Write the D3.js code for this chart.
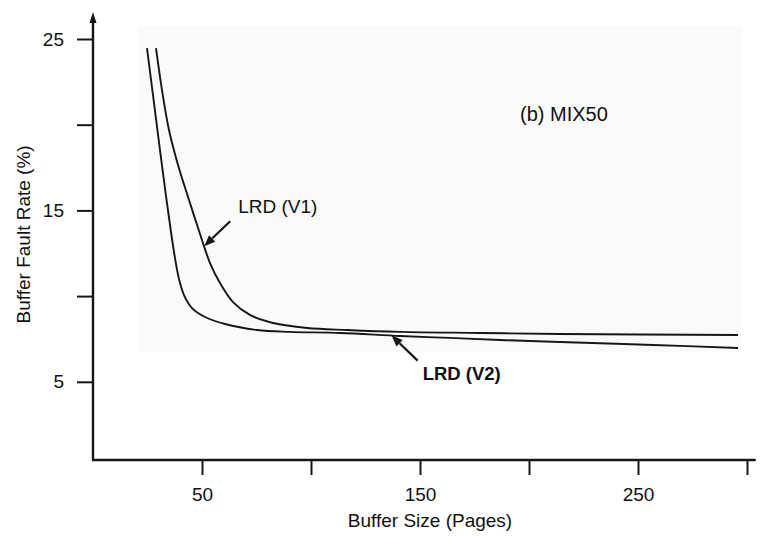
<!DOCTYPE html>
<html>
<head>
<meta charset="utf-8">
<script src="https://cdn.jsdelivr.net/npm/d3@7/dist/d3.min.js"></script>
<style>
  html, body { margin: 0; padding: 0; background: #ffffff; }
  svg { display: block; }
  text { font-family: "Liberation Sans", Arial, Helvetica, sans-serif; fill: #111; }
</style>
</head>
<body>
<div id="chart"></div>
<script>
// Buffer fault rate (%) against buffer size (pages), workload MIX50
const v1Size = [28.9, 31.65, 34.86, 39.0, 44.04, 49.54, 53.67, 58.26, 64.22, 72.0, 82.6, 98.2, 116.5, 140.8, 177.5, 214.2, 295.9];
const v1Rate = [24.47, 22.02, 19.69, 17.65, 15.61, 13.45, 11.93, 10.76, 9.65, 8.90, 8.43, 8.14, 8.02, 7.91, 7.85, 7.79, 7.73];

const v2Size = [24.77, 27.52, 30.73, 33.49, 35.78, 37.61, 39.45, 41.74, 45.41, 51.38, 60.55, 75.23, 90.4, 113.3, 140.8, 163.8, 186.7, 214.2, 256.9, 295.9];
const v2Rate = [24.47, 21.73, 18.52, 15.84, 13.74, 12.22, 10.99, 10.06, 9.30, 8.78, 8.37, 8.02, 7.91, 7.85, 7.67, 7.56, 7.44, 7.32, 7.15, 6.97];

const xTicks = [50, 100, 150, 200, 250, 300];
const xTickLabels = ["50", "", "150", "", "250", ""];
const yTicks = [5, 10, 15, 20, 25];
const yTickLabels = ["5", "", "15", "", "25"];

const seriesNames = ["LRD (V1)", "LRD (V2)"];
const panelTitle = "(b) MIX50";
const xTitle = "Buffer Size (Pages)";
const yTitle = "Buffer Fault Rate (%)";

const W = 761, H = 536;
const plotBottom = 460;

const x = d3.scaleLinear().domain([0, 300]).range([93, 747]);
const y = d3.scaleLinear().domain([0, 25]).range([467.5, 39]);

const svg = d3.select("#chart").append("svg")
  .attr("width", W).attr("height", H)
  .attr("viewBox", `0 0 ${W} ${H}`);

// faint panel behind the curves
svg.append("rect")
  .attr("x", x(21)).attr("y", y(25.75))
  .attr("width", x(297.5) - x(21))
  .attr("height", y(6.7) - y(25.75))
  .attr("fill", "#fafafa");

const ink = "#161616";

// y axis
const yAxis = d3.axisLeft(y)
  .tickValues(yTicks)
  .tickSize(16)
  .tickPadding(13)
  .tickFormat((d, i) => yTickLabels[i]);
const gy = svg.append("g").attr("transform", `translate(${x(0)},0)`).call(yAxis);
gy.select(".domain").remove();
gy.selectAll(".tick line").attr("stroke", ink).attr("stroke-width", 2);
gy.selectAll(".tick text").style("font-size", "19px").attr("fill", ink);

svg.append("line")
  .attr("x1", x(0)).attr("x2", x(0))
  .attr("y1", plotBottom).attr("y2", 20)
  .attr("stroke", ink).attr("stroke-width", 2.4);
svg.append("path")
  .attr("d", `M${x(0)},12 L${x(0) - 3.5},23 L${x(0) + 3.5},23 Z`)
  .attr("fill", ink);

// x axis
const xAxis = d3.axisBottom(x)
  .tickValues(xTicks)
  .tickSize(15)
  .tickPadding(13)
  .tickFormat((d, i) => xTickLabels[i]);
const gx = svg.append("g").attr("transform", `translate(0,${plotBottom})`).call(xAxis);
gx.select(".domain").remove();
gx.selectAll(".tick line").attr("stroke", ink).attr("stroke-width", 2);
gx.selectAll(".tick text").style("font-size", "19px").attr("fill", ink);

svg.append("line")
  .attr("x1", x(0) - 1).attr("x2", x(304))
  .attr("y1", plotBottom).attr("y2", plotBottom)
  .attr("stroke", ink).attr("stroke-width", 2.4);

// axis titles
svg.append("text")
  .attr("x", (x(0) + x(300)) / 2 + 10).attr("y", 527)
  .attr("text-anchor", "middle")
  .style("font-size", "19px")
  .text(xTitle);

svg.append("text")
  .attr("transform", `translate(30,${y(13.6)}) rotate(-90)`)
  .attr("text-anchor", "middle")
  .style("font-size", "19px")
  .text(yTitle);

// curves
const line = d3.line()
  .x(d => x(d[0]))
  .y(d => y(d[1]))
  .curve(d3.curveCatmullRom.alpha(0.5));

const v1 = v1Size.map((s, i) => [s, v1Rate[i]]);
const v2 = v2Size.map((s, i) => [s, v2Rate[i]]);

[v1, v2].forEach(pts => {
  svg.append("path")
    .datum(pts)
    .attr("d", line)
    .attr("fill", "none")
    .attr("stroke", ink)
    .attr("stroke-width", 1.9)
    .attr("stroke-linejoin", "round");
});

// rate on a curve at a given size (linear between readings)
function rateAt(sizes, rates, s) {
  for (let i = 1; i < sizes.length; i++) {
    if (s <= sizes[i]) {
      const t = (s - sizes[i - 1]) / (sizes[i] - sizes[i - 1]);
      return rates[i - 1] + t * (rates[i] - rates[i - 1]);
    }
  }
  return rates[rates.length - 1];
}

function arrow(tx, ty, fx, fy) {
  const ang = Math.atan2(ty - fy, tx - fx);
  const len = 11, half = 4.5;
  const bx = tx - len * Math.cos(ang), by = ty - len * Math.sin(ang);
  svg.append("line")
    .attr("x1", fx).attr("y1", fy).attr("x2", bx).attr("y2", by)
    .attr("stroke", ink).attr("stroke-width", 2.2);
  svg.append("path")
    .attr("d", `M${tx},${ty} L${bx + half * Math.sin(ang)},${by - half * Math.cos(ang)} L${bx - half * Math.sin(ang)},${by + half * Math.cos(ang)} Z`)
    .attr("fill", ink);
}

// LRD (V1) annotation
const a1x = x(51), a1y = y(rateAt(v1Size, v1Rate, 51));
arrow(a1x, a1y, a1x + 26, a1y - 25);
svg.append("text")
  .attr("x", a1x + 34).attr("y", a1y - 33)
  .style("font-size", "19px")
  .text(seriesNames[0]);

// LRD (V2) annotation
const a2x = x(137), a2y = y(rateAt(v2Size, v2Rate, 137));
arrow(a2x, a2y, a2x + 26, a2y + 25);
svg.append("text")
  .attr("x", a2x + 31).attr("y", a2y + 44)
  .style("font-size", "18.5px")
  .style("font-weight", "bold")
  .text(seriesNames[1]);

// panel title
svg.append("text")
  .attr("x", 520).attr("y", 121)
  .style("font-size", "20px")
  .text(panelTitle);
</script>
</body>
</html>
